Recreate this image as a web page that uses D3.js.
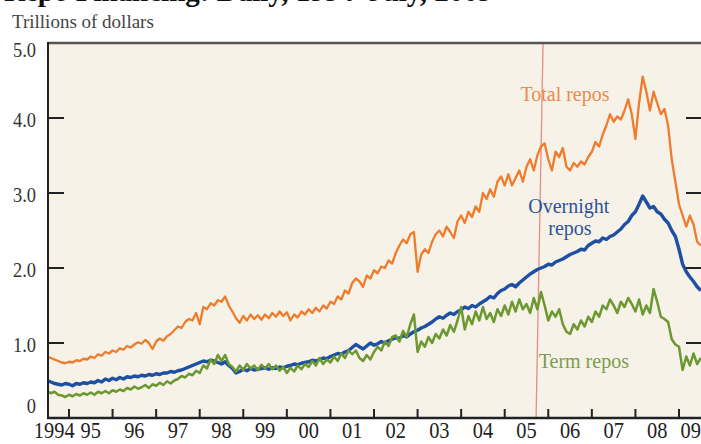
<!DOCTYPE html>
<html><head><meta charset="utf-8">
<script src="https://cdn.jsdelivr.net/npm/d3@7"></script>
<style>
html,body{margin:0;padding:0;background:#fff;}
svg{display:block;}
</style></head>
<body>
<svg id="chart" width="701" height="444"></svg>
<script>
// ---- data (monthly readings, starting July 1994) ----
const startYear = 1994.5;
const totalRepos = [
0.82,0.80,0.78,0.76,0.74,0.73,0.75,0.74,0.77,0.76,0.79,0.78,
0.82,0.80,0.85,0.83,0.88,0.86,0.90,0.88,0.93,0.91,0.96,0.94,
0.98,1.01,0.99,1.04,1.00,0.92,1.02,1.06,1.03,1.09,1.12,1.17,
1.22,1.20,1.28,1.32,1.30,1.40,1.25,1.48,1.45,1.53,1.50,1.57,
1.55,1.62,1.50,1.42,1.33,1.27,1.36,1.30,1.38,1.32,1.37,1.31,
1.38,1.33,1.40,1.35,1.42,1.36,1.41,1.30,1.38,1.34,1.42,1.38,
1.45,1.40,1.47,1.42,1.50,1.46,1.55,1.52,1.62,1.58,1.70,1.66,
1.80,1.86,1.82,1.75,1.90,1.86,1.97,1.93,2.02,2.00,2.10,2.06,
2.20,2.30,2.38,2.33,2.45,2.48,1.95,2.18,2.25,2.20,2.35,2.45,
2.50,2.42,2.55,2.48,2.40,2.62,2.70,2.60,2.75,2.68,2.82,2.75,
3.00,2.92,3.05,2.95,3.15,3.22,3.10,3.25,3.10,3.20,3.30,3.15,
3.35,3.45,3.30,3.50,3.62,3.66,3.45,3.30,3.55,3.48,3.60,3.35,
3.30,3.40,3.35,3.42,3.38,3.48,3.55,3.68,3.62,3.78,3.90,4.05,
3.95,4.02,3.98,4.10,4.25,4.05,3.72,4.20,4.55,4.35,4.10,4.35,
4.20,4.05,4.12,3.90,3.45,3.15,2.85,2.70,2.55,2.70,2.58,2.35,2.30];
const overnightRepos = [
0.50,0.48,0.46,0.45,0.44,0.46,0.45,0.43,0.46,0.45,0.47,0.46,
0.48,0.47,0.50,0.48,0.52,0.50,0.53,0.51,0.54,0.52,0.55,0.54,
0.56,0.55,0.57,0.56,0.58,0.57,0.59,0.58,0.60,0.60,0.62,0.61,
0.63,0.64,0.66,0.68,0.70,0.72,0.74,0.76,0.75,0.77,0.76,0.74,
0.72,0.75,0.70,0.66,0.60,0.62,0.65,0.63,0.66,0.64,0.65,0.66,
0.67,0.65,0.67,0.66,0.68,0.67,0.69,0.70,0.72,0.71,0.73,0.74,
0.75,0.77,0.76,0.78,0.80,0.79,0.82,0.84,0.86,0.85,0.88,0.90,
0.94,0.98,0.95,0.92,0.96,1.00,0.97,0.99,1.02,1.00,1.03,1.05,
1.07,1.06,1.10,1.08,1.12,1.15,1.17,1.20,1.22,1.25,1.28,1.32,
1.35,1.33,1.37,1.40,1.38,1.42,1.44,1.48,1.46,1.50,1.48,1.52,
1.55,1.58,1.62,1.60,1.66,1.70,1.72,1.76,1.78,1.75,1.80,1.84,
1.88,1.92,1.95,1.98,2.00,2.02,2.05,2.04,2.08,2.10,2.12,2.15,
2.18,2.20,2.22,2.25,2.24,2.30,2.33,2.36,2.35,2.40,2.38,2.42,
2.44,2.48,2.52,2.58,2.62,2.70,2.75,2.85,2.96,2.88,2.80,2.82,
2.75,2.72,2.65,2.60,2.50,2.42,2.25,2.05,1.95,1.88,1.82,1.75,1.70];
const termRepos = [
0.36,0.33,0.35,0.31,0.30,0.28,0.31,0.29,0.32,0.30,0.33,0.31,
0.34,0.31,0.35,0.33,0.36,0.33,0.37,0.35,0.38,0.36,0.40,0.38,
0.42,0.39,0.41,0.44,0.40,0.45,0.43,0.47,0.44,0.49,0.46,0.50,
0.52,0.56,0.54,0.59,0.57,0.63,0.60,0.70,0.66,0.78,0.72,0.84,
0.76,0.84,0.72,0.68,0.62,0.70,0.64,0.72,0.66,0.70,0.64,0.71,
0.66,0.72,0.65,0.70,0.63,0.68,0.60,0.67,0.62,0.70,0.65,0.72,
0.68,0.76,0.70,0.80,0.72,0.78,0.74,0.82,0.76,0.86,0.80,0.90,
0.85,0.90,0.80,0.76,0.84,0.78,0.88,0.95,0.90,1.02,0.96,1.08,
1.10,1.02,1.16,1.08,1.25,1.38,0.88,1.02,0.95,1.08,1.00,1.12,
1.06,1.18,1.10,1.24,1.15,1.30,1.48,1.18,1.36,1.25,1.42,1.30,
1.48,1.32,1.40,1.28,1.45,1.36,1.50,1.38,1.55,1.42,1.58,1.45,
1.52,1.40,1.60,1.45,1.68,1.50,1.30,1.42,1.35,1.45,1.25,1.15,
1.12,1.25,1.18,1.30,1.22,1.35,1.28,1.42,1.35,1.50,1.45,1.58,
1.50,1.40,1.55,1.48,1.60,1.52,1.42,1.58,1.38,1.50,1.40,1.72,
1.55,1.35,1.32,1.28,1.05,0.98,0.95,0.64,0.82,0.70,0.86,0.72,0.80];
const yTicks = [0,1,2,3,4,5];
const yTickLabels = ["0","1.0","2.0","3.0","4.0","5.0"];
const xTickYears = [1995,1996,1997,1998,1999,2000,2001,2002,2003,2004,2005,2006,2007,2008,2009];
const xLabelYears = [1994,1995,1996,1997,1998,1999,2000,2001,2002,2003,2004,2005,2006,2007,2008,2009];
const xLabels = ["1994","95","96","97","98","99","00","01","02","03","04","05","06","07","08","09"];
const markerYears = [2005.88, 2005.72]; // top, bottom of the thin vertical marker
const title = "Repo Financing: Daily, 1994\u2013July, 2009";
const yTitle = "Trillions of dollars";

// ---- layout ----
const svg = d3.select("#chart");
const serif = "'Liberation Serif','Times New Roman',serif";
const x = d3.scaleLinear().domain([1995, 2009]).range([69, 679]);
const y = d3.scaleLinear().domain([0, 5]).range([418, 43]);
const pL = 48, pR = 720, pT = 43, pB = 418;

svg.append("text").attr("x", 4).attr("y", 1)
  .attr("font-family", serif).attr("font-weight", "bold").attr("font-size", 29)
  .attr("fill", "#111").text(title);

svg.append("text").attr("x", 12).attr("y", 28)
  .attr("font-family", serif).attr("font-size", 19).attr("fill", "#444").text(yTitle);

svg.append("rect").attr("x", pL).attr("y", pT).attr("width", pR-pL).attr("height", pB-pT)
  .attr("fill", "#f6f2e8");

svg.append("defs").append("clipPath").attr("id", "plotclip")
  .append("rect").attr("x", pL+1).attr("y", pT).attr("width", pR-pL).attr("height", pB-pT);

// marker line
svg.append("line")
  .attr("x1", x(markerYears[0])).attr("y1", y(5)).attr("x2", x(markerYears[1])).attr("y2", y(0))
  .attr("stroke", "#e09080").attr("stroke-width", 1.3);

const toPts = arr => arr.map((v,i) => [startYear + i/12, v]);
const line = d3.line().x(d => x(d[0])).y(d => y(d[1])).curve(d3.curveLinear);
const g = svg.append("g").attr("clip-path", "url(#plotclip)");
g.append("path").attr("d", line(toPts(totalRepos))).attr("fill","none")
  .attr("stroke","#ef7b2c").attr("stroke-width",2.3).attr("stroke-linejoin","round");
g.append("path").attr("d", line(toPts(overnightRepos))).attr("fill","none")
  .attr("stroke","#1d4fa3").attr("stroke-width",3.4).attr("stroke-linejoin","round");
g.append("path").attr("d", line(toPts(termRepos))).attr("fill","none")
  .attr("stroke","#6b9830").attr("stroke-width",2.5).attr("stroke-linejoin","round");

// frame
svg.append("line").attr("x1", pL).attr("x2", pR).attr("y1", pT).attr("y2", pT)
  .attr("stroke", "#555").attr("stroke-width", 2.5);
svg.append("line").attr("x1", pL).attr("x2", pL).attr("y1", pT-1).attr("y2", pB+1)
  .attr("stroke", "#222").attr("stroke-width", 2);
svg.append("line").attr("x1", pL-1).attr("x2", pR).attr("y1", pB).attr("y2", pB)
  .attr("stroke", "#222").attr("stroke-width", 2.5);

// y ticks (inner, both sides)
const innerTicks = yTicks.filter(t => t > 0 && t < 5);
svg.selectAll(".ytl").data(innerTicks).enter().append("line")
  .attr("x1", pL).attr("x2", pL+16).attr("y1", d => y(d)).attr("y2", d => y(d))
  .attr("stroke", "#222").attr("stroke-width", 2);
svg.selectAll(".ytr").data(innerTicks).enter().append("line")
  .attr("x1", 686).attr("x2", 702).attr("y1", d => y(d)).attr("y2", d => y(d))
  .attr("stroke", "#222").attr("stroke-width", 2);
svg.selectAll(".ylab").data(yTicks).enter().append("text")
  .attr("transform", (d,i) => `translate(36,${y(d) + (d===5 ? 14 : d===0 ? -5 : 9)}) scale(0.88,1)`)
  .attr("text-anchor", "end").attr("font-family", serif).attr("font-size", 21).attr("fill", "#333")
  .text((d,i) => yTickLabels[i]);

// x ticks
svg.selectAll(".xt").data(xTickYears).enter().append("line")
  .attr("x1", d => x(d)).attr("x2", d => x(d)).attr("y1", pB).attr("y2", pB-9)
  .attr("stroke", "#222").attr("stroke-width", 2);
svg.selectAll(".xlab").data(xLabelYears).enter().append("text")
  .attr("transform", (d,i) => {
    let cx = x(d + 0.5);
    if (i === 0) cx += 7;
    if (i === xLabelYears.length-1) cx -= 10;
    return `translate(${cx},438) scale(0.85,1)`;
  })
  .attr("text-anchor", "middle").attr("font-family", serif).attr("font-size", 24).attr("fill", "#222")
  .text((d,i) => xLabels[i]);

// series labels
const lab = (txt, xx, yy, col) => svg.append("text").attr("x", xx).attr("y", yy)
  .attr("font-family", serif).attr("font-size", 20).attr("fill", col).text(txt);
lab("Total repos", x(2005.36), 101, "#ec8a4c");
lab("Overnight", x(2005.54), 213, "#2f5396");
lab("repos", x(2006.0), 235, "#2f5396");
lab("Term repos", x(2005.78), 368, "#7f9b4e");
</script>
</body></html>
